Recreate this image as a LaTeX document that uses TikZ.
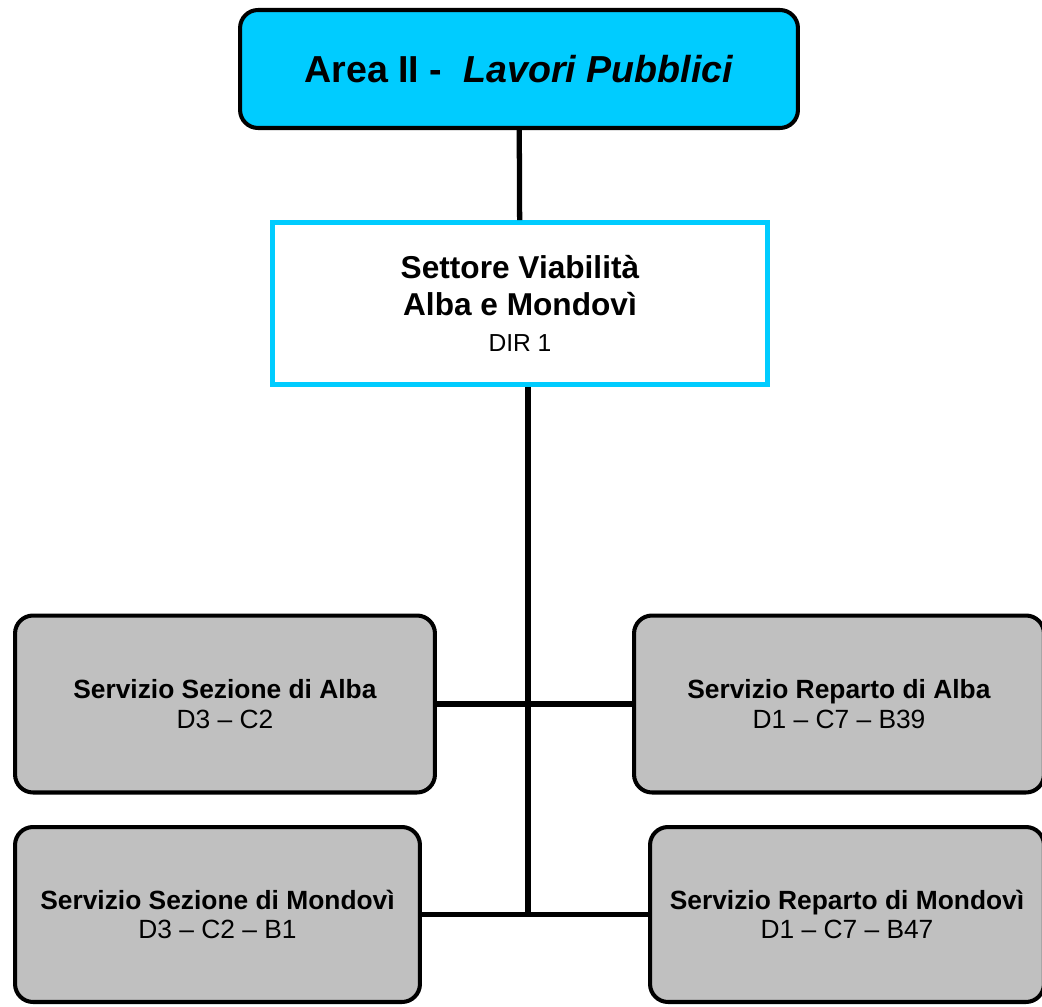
\documentclass[tikz,border=0pt]{standalone}
\usepackage{fontspec}
\setmainfont{Liberation Sans}

\definecolor{areablu}{HTML}{00CCFF}
\definecolor{servgrigio}{HTML}{C0C0C0}

\begin{document}
\begin{tikzpicture}[x=0.02cm,y=-0.02cm,
	area/.style={draw,line width=2.3pt,rounded corners=0.36cm,fill=areablu,minimum width=11.16cm,minimum height=2.36cm,font=\fontsize{21.4}{25}\selectfont\bfseries},
	settore/.style={draw=areablu,line width=2.8pt,fill=white,minimum width=9.9cm,minimum height=3.24cm,align=center,font=\fontsize{18}{21.5}\selectfont},
	servizio/.style={draw,line width=2.3pt,rounded corners=0.36cm,fill=servgrigio,minimum height=3.54cm,align=center,font=\fontsize{15}{17}\selectfont},
	linea/.style={line width=3pt}]
						\useasboundingbox (0,0) rectangle (1042,1007);

							\node[area] (area) at (519,69) {Area II -\ \ \textit{Lavori Pubblici}};
							\node[settore] (settore) at (520,303.5) {\textbf{Settore Viabilità}\\\textbf{Alba e Mondovì}\\[-1pt]{\fontsize{14}{17}\selectfont DIR 1}};

							\node[servizio,minimum width=8.4cm] (sezA) at (225,704) {\textbf{Servizio Sezione di Alba}\\D3 – C2};
							\node[servizio,minimum width=8.2cm] (repA) at (839,704) {\textbf{Servizio Reparto di Alba}\\D1 – C7 – B39};
							\node[servizio,minimum width=8.1cm,minimum height=3.5cm] (sezM) at (217.5,914.5) {\textbf{Servizio Sezione di Mondovì}\\D3 – C2 – B1};
							\node[servizio,minimum width=7.88cm,minimum height=3.5cm] (repM) at (847,914.5) {\textbf{Servizio Reparto di Mondovì}\\D1 – C7 – B47};

							\coordinate (nodo) at (528,916);

							\draw[linea] (area) -- (settore);
							\draw[linea] (settore.south -| nodo) -- (nodo);
							\foreach \from in {sezA,repA}
								\draw[linea] (\from) -- (\from -| nodo);
							\draw[linea] (sezM) -- (repM);

						\end{tikzpicture}
\end{document}
